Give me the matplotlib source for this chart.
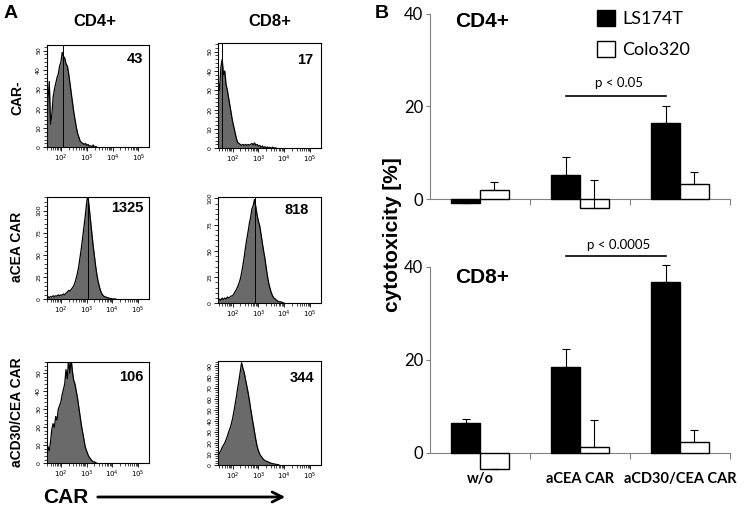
import matplotlib
matplotlib.use("Agg")
import matplotlib.pyplot as plt
import numpy as np
from matplotlib.patches import Patch, FancyArrowPatch
from matplotlib.ticker import AutoMinorLocator, FixedLocator

# ---------------- data: panel A (flow histograms, x = log10 intensity) ----------------
bin_start = 1.45
bin_step = 0.05

cd4_car_neg = [10, 25, 34, 12, 17, 26, 30, 33, 36, 38, 42, 44, 49, 47, 46, 43, 42, 38, 33,
               28, 23, 18, 14, 10, 7, 5, 3, 2.5, 2, 1.5, 2, 1, 1.5, 0.6, 0.8, 0.3, 1.2, 0,
               0.4, 0]
cd8_car_neg = [34, 30, 42, 46, 38, 40, 33, 30, 26, 22, 18, 14, 11, 8, 5, 3, 2.5, 2, 1.5, 2,
               1.5, 2, 1.5, 2, 1.6, 2, 2.5, 1.8, 2.8, 1.5, 2, 1.2, 1.5, 0.5, 1.2, 0.4, 0.8,
               0.2, 0.7, 0.1, 0.5, 0, 0.6, 0, 0.3, 0]
cd4_acea = [1, 3, 2, 3, 2.5, 4, 3, 4, 3.5, 5, 4, 5, 4.5, 6, 5, 7, 8, 10, 9, 11, 13, 15, 19,
            24, 30, 38, 48, 58, 70, 82, 94, 108, 118, 104, 90, 76, 62, 50, 38, 28, 20, 14,
            9, 6, 4, 3, 2.5, 2, 1.5, 1, 0.8, 0.5, 0.3, 0.5, 0]
cd8_acea = [2, 4, 3, 5, 3.5, 5, 4, 6, 5, 6, 7, 7, 9, 11, 13, 16, 19, 23, 29, 36, 44, 53, 61,
            68, 76, 82, 90, 93, 99, 92, 84, 78, 74, 66, 58, 50, 43, 34, 26, 19, 14, 10, 7,
            5, 4, 3, 2, 1.5, 1.5, 1, 0.5, 0]
cd4_acd30 = [11, 9, 7, 12, 19, 22, 20, 26, 24, 30, 32, 34, 38, 41, 44, 52, 47, 58, 50, 58,
             51, 46, 44, 40, 36, 31, 26, 21, 17, 13, 9, 7, 5, 3.5, 2.5, 1.5, 1, 0.8, 0.4, 0]
cd8_acd30 = [9, 11, 13, 16, 18, 20, 23, 26, 30, 33, 37, 42, 48, 55, 62, 70, 77, 85, 93, 88,
             84, 78, 72, 66, 59, 51, 44, 37, 30, 23, 17, 13, 10, 8, 6.5, 5, 4, 3.5, 3, 2.5,
             2, 1.5, 1.2, 1, 0.8, 0.5, 0.3, 0]

mfi_values = [["43", "17"], ["1325", "818"], ["106", "344"]]
gate_positions = [[2.1, 1.6], [3.04, 2.86], [None, None]]
row_labels = ["CAR-", "aCEA CAR", "aCD30/CEA CAR"]
col_labels = ["CD4+", "CD8+"]

# ---------------- data: panel B (cytotoxicity) ----------------
categories = ["w/o", "aCEA CAR", "aCD30/CEA CAR"]
cd4_ls174t = [-0.9, 5.1, 16.5]
cd4_ls174t_err = [0, 4.0, 3.7]
cd4_colo320 = [2.0, -2.0, 3.3]
cd4_colo320_err = [1.6, 6.0, 2.6]
cd8_ls174t = [6.4, 18.5, 36.6]
cd8_ls174t_err = [1.0, 3.9, 3.7]
cd8_colo320 = [-3.5, 1.2, 2.3]
cd8_colo320_err = [0, 5.8, 2.6]

W, H = 745, 511
fig = plt.figure(figsize=(W / 100, H / 100), dpi=100)


def fbox(x0, y_top, x1, y_bot):
    return [x0 / W, 1 - y_bot / H, (x1 - x0) / W, (y_bot - y_top) / H]


def fx(px):
    return px / W


def fy(py):
    return 1 - py / H


# ====== Panel A ======
hist_data = [[cd4_car_neg, cd8_car_neg], [cd4_acea, cd8_acea], [cd4_acd30, cd8_acd30]]
hist_boxes = [[(46.7, 44.7, 149.3, 147.3), (218.3, 43.3, 321, 148.3)],
              [(46.7, 197.3, 148.8, 299.3), (218.3, 197.3, 321, 303.3)],
              [(46.7, 361.7, 148.8, 463.3), (218.3, 361, 321, 465)]]
ylims = [[53, 54.3], [115, 101], [56.4, 94.5]]
yticks = [[np.arange(0, 51, 10), np.arange(0, 51, 10)],
          [np.arange(0, 101, 25), np.arange(0, 101, 25)],
          [np.arange(0, 51, 10), np.arange(0, 91, 10)]]
num_pos = [[(135, 59), (305, 60)], [(127, 208), (297, 210)], [(131, 377), (302, 378)]]

minor_x = [np.log10(k * 10.0 ** n) for n in range(1, 5) for k in range(2, 10)]
minor_x = [m for m in minor_x if 1.45 < m < 5.42]

for r in range(3):
    for c in range(2):
        ax = fig.add_axes(fbox(*hist_boxes[r][c]))
        counts = hist_data[r][c]
        xs = bin_start + bin_step * np.arange(len(counts))
        ax.fill_between(xs, counts, color="#6a6a6a", lw=0)
        ax.plot(xs, counts, color="black", lw=0.9)
        g = gate_positions[r][c]
        if g is not None:
            ax.axvline(g, color="black", lw=0.7)
        ax.set_xlim(1.45, 5.42)
        ax.set_ylim(0, ylims[r][c])
        ax.set_xticks([2, 3, 4, 5])
        ax.set_xticklabels([r"$10^2$", r"$10^3$", r"$10^4$", r"$10^5$"], fontsize=5)
        ax.xaxis.set_minor_locator(FixedLocator(minor_x))
        ax.set_yticks(yticks[r][c])
        ax.set_yticklabels([str(v) for v in yticks[r][c]], fontsize=4.5, rotation=90,
                           va="center")
        ax.yaxis.set_minor_locator(AutoMinorLocator(5))
        ax.tick_params(which="major", direction="out", length=3, width=0.6, pad=1)
        ax.tick_params(which="minor", direction="out", length=2, width=0.5)
        for s in ax.spines.values():
            s.set_linewidth(0.8)
        fig.text(fx(num_pos[r][c][0]), fy(num_pos[r][c][1]), mfi_values[r][c],
                 fontsize=10.5, fontweight="bold", family="Liberation Sans",
                 ha="center", va="center")

fig.text(fx(11), fy(14), "A", fontsize=14, fontweight="bold", family="Liberation Sans",
         ha="center", va="center")
fig.text(fx(95), fy(22), col_labels[0], fontsize=12, fontweight="bold",
         family="Liberation Sans", ha="center", va="center")
fig.text(fx(270), fy(22), col_labels[1], fontsize=12, fontweight="bold",
         family="Liberation Sans", ha="center", va="center")
for lab, yy in zip(row_labels, [98, 247, 412]):
    fig.text(fx(17), fy(yy), lab, fontsize=10, fontweight="bold", family="Liberation Sans",
             rotation=90, ha="center", va="center")
fig.text(fx(66), fy(497), "CAR", fontsize=15, fontweight="bold", family="Liberation Sans",
         ha="center", va="center")
fig.patches.append(FancyArrowPatch(
    (fx(95), fy(497)), (fx(288), fy(497)), transform=fig.transFigure,
    arrowstyle="->", mutation_scale=18, lw=2, color="black"))

# ====== Panel B ======
xpos = np.arange(len(categories))
bw = 0.287


def bar_panel(ax, ls, ls_err, colo, colo_err, ylim):
    ekw = dict(lw=0.8, capthick=0.8)
    ax.bar(xpos - bw / 2, ls, bw, color="black", edgecolor="black", lw=1,
           yerr=[np.zeros(3), ls_err], capsize=3, ecolor="black", error_kw=ekw, zorder=3)
    ax.bar(xpos + bw / 2, colo, bw, color="white", edgecolor="black", lw=1,
           yerr=[np.zeros(3), colo_err], capsize=3, ecolor="black", error_kw=ekw, zorder=3)
    ax.set_xlim(-0.5, 2.5)
    ax.set_ylim(*ylim)
    for s in ["top", "right"]:
        ax.spines[s].set_visible(False)
    ax.spines["bottom"].set_position(("data", 0))
    ax.spines["left"].set_bounds(0, 40)
    ax.spines["left"].set_color("#808080")
    ax.spines["bottom"].set_color("#808080")
    ax.set_yticks([0, 20, 40])
    ax.set_yticklabels(["0", "20", "40"], fontsize=12, family="Lato")
    ax.tick_params(axis="y", direction="out", length=3, color="#808080", pad=2)
    ax.set_xticks([0.5, 1.5, 2.5])
    ax.set_xticklabels([])
    ax.tick_params(axis="x", which="major", direction="out", length=4, color="#808080")
    ax.patch.set_alpha(0)


ax_top = fig.add_axes(fbox(430, 4.75, 730, 217.5))
bar_panel(ax_top, cd4_ls174t, cd4_ls174t_err, cd4_colo320, cd4_colo320_err, (-4, 42))
ax_top.plot([1 - 0.14, 2 - 0.14], [22.2, 22.2], color="black", lw=1.2)
ax_top.text(1.39, 25.1, "p < 0.05", fontsize=9.5, family="Lato", ha="center", va="center")
ax_top.text(0.02, 38.3, "CD4+", fontsize=15, fontweight="bold", family="Liberation Sans",
            ha="center", va="center")

ax_bot = fig.add_axes(fbox(430, 238.6, 730, 476.3))
bar_panel(ax_bot, cd8_ls174t, cd8_ls174t_err, cd8_colo320, cd8_colo320_err, (-5, 46))
ax_bot.plot([1 - 0.14, 2 - 0.14], [42.2, 42.2], color="black", lw=1.2)
ax_bot.text(1.39, 44.6, "p < 0.0005", fontsize=9.5, family="Lato", ha="center",
            va="center")
ax_bot.text(0.02, 37.6, "CD8+", fontsize=15, fontweight="bold", family="Liberation Sans",
            ha="center", va="center")
ax_bot.set_xticks(xpos, minor=True)
ax_bot.set_xticklabels(categories, minor=True, fontsize=10.5, fontweight="bold",
                       family="Lato")
ax_bot.tick_params(axis="x", which="minor", length=0, pad=14)

fig.text(fx(382), fy(14), "B", fontsize=14, fontweight="bold", family="Liberation Sans",
         ha="center", va="center")
fig.text(fx(393), fy(235), "cytotoxicity [%]", fontsize=15, fontweight="bold",
         family="Liberation Sans", rotation=90, ha="center", va="center")

ax_top.legend(handles=[Patch(facecolor="black", edgecolor="black"),
                       Patch(facecolor="white", edgecolor="black")],
              labels=["LS174T", "Colo320"], loc="upper left",
              bbox_to_anchor=(fx(588), fy(1)), bbox_transform=fig.transFigure,
              frameon=False, handlelength=1.0, handleheight=1.0, labelspacing=0.75,
              borderpad=0, handletextpad=0.4, prop=dict(family="Lato", size=13))

plt.savefig("out.png", dpi=100)
